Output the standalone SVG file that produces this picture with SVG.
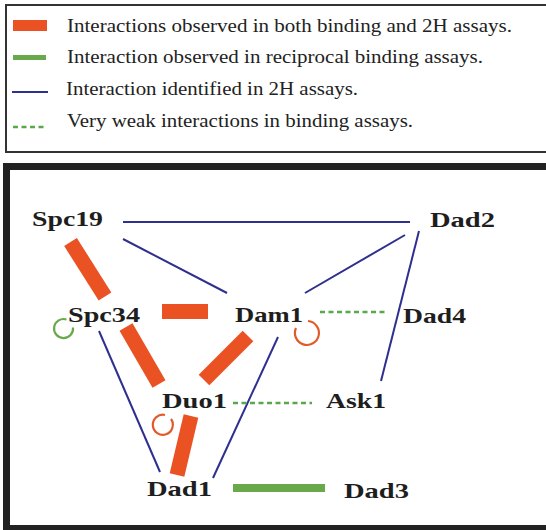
<svg xmlns="http://www.w3.org/2000/svg" width="546" height="530" viewBox="0 0 546 530">
<style>
.leg{font-family:"Liberation Serif","Times New Roman",serif;font-size:18px;fill:#222}
.node{font-family:"Liberation Serif","Times New Roman",serif;font-size:22px;font-weight:bold;fill:#1e1e1e}
.blue{stroke:#2e2f8e;stroke-width:2;fill:none;stroke-linecap:butt}
.orange{stroke:#ea5224;fill:none;stroke-linecap:butt}
.gdash{stroke:#5aa84a;stroke-width:2.5;stroke-dasharray:5 3.5;fill:none}
.loopO{stroke:#e35a2a;stroke-width:2.2;fill:none}
.loopG{stroke:#6aa84c;stroke-width:2.2;fill:none}
</style>
<rect width="546" height="530" fill="#fff"/>
<g id="legend">
<rect x="6" y="5" width="545" height="147" fill="none" stroke="#333" stroke-width="2"/>
<rect x="13" y="20" width="34" height="11" fill="#ea5224"/>
<text class="leg" x="67" y="31.5" textLength="445" lengthAdjust="spacingAndGlyphs">Interactions observed in both binding and 2H assays.</text>
<rect x="13" y="55" width="33" height="5" fill="#6aa84c"/>
<text class="leg" x="67" y="63" textLength="416" lengthAdjust="spacingAndGlyphs">Interaction observed in reciprocal binding assays.</text>
<line x1="12" y1="92" x2="48" y2="92" class="blue"/>
<text class="leg" x="66" y="95" textLength="292" lengthAdjust="spacingAndGlyphs">Interaction identified in 2H assays.</text>
<line x1="13" y1="127" x2="47" y2="127" class="gdash" stroke-dasharray="4 3"/>
<text class="leg" x="67" y="127" textLength="346" lengthAdjust="spacingAndGlyphs">Very weak interactions in binding assays.</text>
</g>
<rect id="frame" x="6.5" y="166.5" width="545" height="362" fill="none" stroke="#222" stroke-width="7"/>
<g id="connectors">
<line class="blue" x1="123" y1="222" x2="410" y2="222"/>
<line class="blue" x1="123" y1="239" x2="227" y2="293"/>
<line class="blue" x1="305" y1="293" x2="405" y2="235"/>
<line class="blue" x1="419" y1="231" x2="381" y2="381"/>
<line class="blue" x1="99" y1="331" x2="160" y2="472"/>
<line class="blue" x1="278" y1="337" x2="213" y2="478"/>
<line class="orange" stroke-width="15" x1="70.5" y1="242" x2="105" y2="296.5"/>
<rect x="162" y="304" width="46" height="15" fill="#ea5224"/>
<line class="orange" stroke-width="15" x1="126" y1="327" x2="159" y2="384"/>
<line class="orange" stroke-width="15" x1="248" y1="336" x2="204" y2="380"/>
<line class="orange" stroke-width="15" x1="191" y1="416" x2="177" y2="475"/>
<rect x="233" y="484" width="92" height="8" fill="#6aa84c"/>
<line class="gdash" x1="320" y1="312" x2="388" y2="312"/>
<line class="gdash" x1="233" y1="403" x2="312" y2="403"/>
<path class="loopG" d="M 66.5 319.5 A 9.5 9.5 0 1 0 73 327.5"/>
<path class="loopO" d="M 308 321 A 12 12 0 1 1 296 328"/>
<path class="loopO" d="M 165 415 A 10 10 0 1 0 171 419"/>
</g>
<g id="n-spc19"><text class="node" x="32" y="226" textLength="71" lengthAdjust="spacingAndGlyphs">Spc19</text></g>
<g id="n-dad2"><text class="node" x="430" y="227" textLength="65" lengthAdjust="spacingAndGlyphs">Dad2</text></g>
<g id="n-spc34"><text class="node" x="68" y="322" textLength="72" lengthAdjust="spacingAndGlyphs">Spc34</text></g>
<g id="n-dam1"><text class="node" x="235" y="322" textLength="68" lengthAdjust="spacingAndGlyphs">Dam1</text></g>
<g id="n-dad4"><text class="node" x="403" y="323" textLength="63" lengthAdjust="spacingAndGlyphs">Dad4</text></g>
<g id="n-duo1"><text class="node" x="162" y="408" textLength="65" lengthAdjust="spacingAndGlyphs">Duo1</text></g>
<g id="n-ask1"><text class="node" x="326" y="408" textLength="60" lengthAdjust="spacingAndGlyphs">Ask1</text></g>
<g id="n-dad1"><text class="node" x="147" y="496" textLength="65" lengthAdjust="spacingAndGlyphs">Dad1</text></g>
<g id="n-dad3"><text class="node" x="344" y="498" textLength="65" lengthAdjust="spacingAndGlyphs">Dad3</text></g>
</svg>
